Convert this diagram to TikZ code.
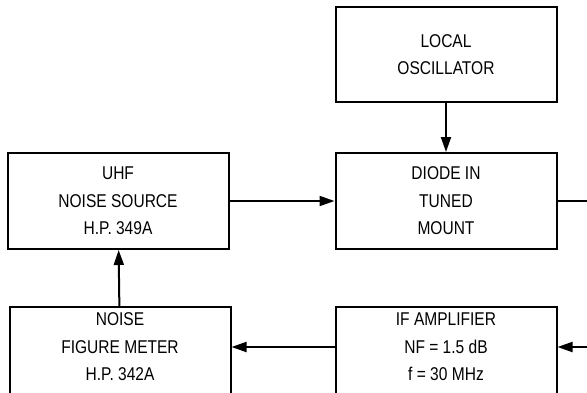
\documentclass[tikz,border=0pt]{standalone}
\usepackage{fontspec}
\setmainfont[FakeStretch=0.84]{Liberation Sans}
\usetikzlibrary{arrows.meta,positioning}

\begin{document}
\begin{tikzpicture}[x=1pt,y=-1pt,line width=2pt,>={Triangle[length=15pt,width=10pt]}]

\tikzstyle{block}=[draw,align=center,minimum width=221pt,minimum height=96pt,
  inner sep=0pt,font=\fontsize{18.5}{27.5}\selectfont]
\tikzstyle{cutblock}=[block,anchor=north,text depth=16pt]

\useasboundingbox (0,0) rectangle (587,392);

\node[block] (diode) at (446,201) {DIODE IN\\TUNED\\MOUNT};
\node[block,minimum height=95pt,above=49pt of diode] (osc) {LOCAL\\OSCILLATOR};
\node[block,left=105pt of diode] (uhf) {UHF\\NOISE SOURCE\\H.P. 349A};
\node[cutblock] (nfm) at (120,306) {NOISE\\FIGURE METER\\H.P. 342A};
\node[cutblock] (ifamp) at (446,306) {IF AMPLIFIER\\NF = 1.5 dB\\f = 30 MHz};
\coordinate (edge) at (610,0);

\draw[->] (osc) -- (diode);
\draw[->] (uhf) -- (diode);
\draw[->] (diode.east) -- (diode.east -| edge) |- ([yshift=8pt]ifamp.east);
\draw[->] ([yshift=8pt]ifamp.west) -- ([yshift=8pt]nfm.east);
\draw[->] (nfm) -- (uhf);

\end{tikzpicture}
\end{document}
